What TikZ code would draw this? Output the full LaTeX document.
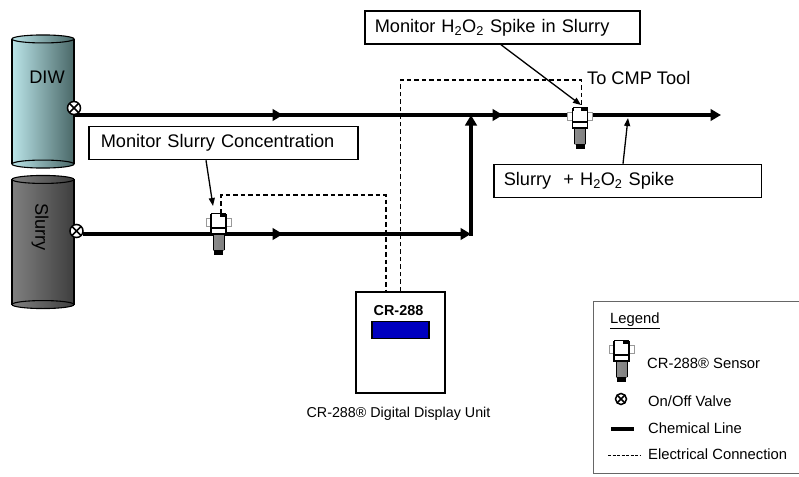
\documentclass[tikz,border=0pt]{standalone}
\usepackage{fontspec}
\setmainfont{Liberation Sans}
\usetikzlibrary{shapes.geometric, arrows.meta, positioning}
\definecolor{diwlight}{RGB}{186,228,232}
\definecolor{diwmid}{RGB}{140,184,188}
\definecolor{diwdark}{RGB}{74,104,104}
\definecolor{slurrylight}{RGB}{128,128,128}
\definecolor{slurrymid}{RGB}{104,104,104}
\definecolor{slurrydark}{RGB}{62,62,62}
\tikzset{
  pics/sensor/.style={code={
    % ears, barrel, tip, then the head on top
    \draw[black!40, fill=white, line width=.8pt] (-12.5,5) rectangle (12.5,13);
    \shade[left color=black!45, middle color=white, right color=black!50] (-5.5,21) rectangle (5.5,37);
    \draw[line width=1pt] (-5.5,21) -- (-5.5,37) (5.5,21) -- (5.5,37);
    \fill (-4.5,36.5) rectangle (4.5,42);
    \draw[fill=white, line width=1.1pt] (-7.5,2) rectangle (7.5,21);
    \draw[line width=1.1pt] (-7.5,15) -- (7.5,15);
    \fill (-7.5,0) -- (7.5,0) -- (7.5,4) -- (-7.5,4) -- cycle;
    \fill[white] (-6.5,1.2) rectangle (1,4);
  }}
}
\begin{document}
\begin{tikzpicture}[
  x=1pt, y=-1pt,
  font=\fontsize{18.2}{20}\selectfont,
  tank/.style={draw, line width=1.1pt, minimum width=62pt, minimum height=124pt, inner sep=0pt},
  tankend/.style={ellipse, draw, line width=1.1pt, minimum width=62pt, minimum height=8pt, inner sep=0pt},
  diwfill/.style={left color=diwlight, middle color=diwmid, right color=diwdark},
  slurryfill/.style={left color=slurrylight, middle color=slurrymid, right color=slurrydark},
  valve/.style={circle, draw, fill=white, line width=1.5pt, minimum size=13pt, inner sep=0pt,
                path picture={\draw[line width=1.6pt]
                  (path picture bounding box.north west) -- (path picture bounding box.south east)
                  (path picture bounding box.north east) -- (path picture bounding box.south west);}},
  chem/.style={line width=3.6pt, -{Triangle[length=10.5pt, width=11.5pt]}, shorten <=-6pt},
  wire/.style={dash pattern=on 4.5pt off 3pt, line width=1.5pt},
  note/.style={draw, line width=1.5pt, anchor=west, minimum height=33pt, fill=white, inner sep=0pt, align=left},
  call/.style={line width=1.3pt, -{Triangle[length=8pt, width=6pt]}},
  keytext/.style={anchor=west, inner sep=0pt, font=\fontsize{14.8}{16}\selectfont}
]
  \useasboundingbox (0,0) rectangle (799,476);

  % tanks
  \node[tank, diwfill]    (diw)    at (43,101.5) {};
  \node[tank, slurryfill] (slurry) at (43,242)   {};
  \node[tankend, diwfill] (diwtop) at (diw.north) {};
  \node[tankend, diwfill] (diwbot) at (diw.south) {};
  \node[tankend, slurryfill] (slurrytop) at (slurry.north) {};
  \node[tankend, slurryfill] (slurrybot) at (slurry.south) {};
  \node (diwname)    at (47,77)  {DIW};
  \node[rotate=-90] (slurryname) at (40,227) {Slurry};

  % points on the chemical lines
  \coordinate (diwstart) at (80,115);
  \coordinate (diwm)   at (283,115);
  \coordinate (diwj)   at (471,115);
  \coordinate (diwmm)  at (503,115);
  \coordinate (tool)   at (721,115);
  \coordinate (slustart) at (89,234);
  \coordinate (slum)   at (283,234);
  \coordinate (sluj)   at (471,234);

  % chemical lines
  \draw[chem] (diwstart) -- (diwm);
  \draw[chem] (diwm) -- (diwmm);
  \draw[chem] (diwmm) -- (tool);
  \draw[chem] (slustart) -- (slum);
  \draw[chem] (slum) -- (sluj);
  \draw[chem, shorten <=-1.8pt] (sluj) -- (diwj);

  \node[valve] (diwvalve)    at (74,108)  {};
  \node[valve] (slurryvalve) at (76.5,231) {};

  % sensors
  \coordinate (sensa) at (218.5,213);
  \coordinate (sensb) at (580,107);
  \coordinate (wirea) at (221,213);
  \coordinate (wireb) at (581.5,107);

  % display unit
  \node[draw, line width=1.4pt, minimum width=89pt, minimum height=101pt, inner sep=0pt] (unit) at (400.5,342.5) {};
  \node[draw, line width=1.2pt, fill=blue!75!black, minimum width=57pt, minimum height=17pt, inner sep=0pt] (screen) at (400.5,330) {};
  \node[font=\fontsize{14.4}{16}\selectfont\bfseries, inner sep=0pt] (brand) at (398.5,311) {CR-288};
  \node[below=13pt of unit, inner sep=0pt, font=\fontsize{14.3}{16}\selectfont, xshift=-2pt] (unitname) {CR-288® Digital Display Unit};

  % electrical connections
  \draw[wire] (wirea) |- (386,195) -- ([xshift=-14.5pt]unit.north);
  \draw[wire] ([xshift=.2pt]unit.north) -- (400.7,80) -| (wireb);

  \pic at (sensa) {sensor};
  \pic at (sensb) {sensor};

  % notes
  \node[note, text width=269pt] (noteconc) at (88,143)
    {\hspace{12pt}Monitor Slurry Concentration};
  \node[note, text width=275pt] (notespike) at (364,27.5)
    {\hspace{10pt}Monitor H\textsubscript{2}O\textsubscript{2} Spike in Slurry};
  \node[note, text width=267.5pt] (notemix) at (493,181)
    {\hspace{10pt}Slurry \ + H\textsubscript{2}O\textsubscript{2} Spike};
  \node[anchor=west, inner sep=0pt] (toolname) at (587,78) {To CMP Tool};

  \draw[call] ([xshift=118pt]noteconc.south west) -- (213,206);
  \draw[call] ([xshift=137pt]notespike.south west) -- (581,105);
  \draw[call] ([xshift=130pt]notemix.north west) -- (628,118);

  % legend
  \node[draw=black!60, line width=1pt, anchor=north west, minimum width=220pt, minimum height=172pt] (legend) at (593,301) {};
  \node[keytext] (legendname) at (610,321) {\underline{Legend}};
  \coordinate (senskey) at (621.5,340);
  \pic at (senskey) {sensor};
  \node[keytext] (senstext) at (647,363) {CR-288® Sensor};
  \node[valve, minimum size=11pt] (valvekey) at (621,399) {};
  \node[keytext] (valvetext) at (648,401) {On/Off Valve};
  \coordinate (chema) at (611,429);
  \coordinate (chemb) at (634,429);
  \draw[line width=3.6pt] (chema) -- (chemb);
  \node[keytext] (chemtext) at (648,428) {Chemical Line};
  \coordinate (wirec) at (608,455);
  \coordinate (wired) at (640,455);
  \draw[dash pattern=on 3pt off 1.5pt, line width=1pt] (wirec) -- (wired);
  \node[keytext] (wiretext) at (648,454) {Electrical Connection};
\end{tikzpicture}
\end{document}
